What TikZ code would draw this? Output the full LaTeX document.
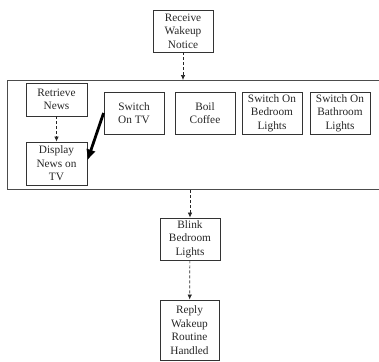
\documentclass[tikz,border=0pt]{standalone}
\usepackage{fontspec}
\setmainfont{Liberation Serif}
\usetikzlibrary{arrows.meta}
\begin{document}
\begin{tikzpicture}[x=1pt,y=-1pt,
  box/.style={draw=black!80, line width=0.8pt, inner sep=0pt, align=center,
    font=\fontsize{11.3}{13.5}\selectfont, text=black!85},
  flow/.style={draw=black!85, line width=0.7pt, dash pattern=on 3pt off 2pt,
    -{Latex[length=5pt,width=4.5pt]}},
  thick arrow/.style={draw=black, line width=2.8pt, -{Latex[length=11pt,width=10pt]}}]
\useasboundingbox (0,0) rectangle (379,361);
\clip (0,0) rectangle (379,361);
\node[box, minimum width=60pt, minimum height=42pt] (recv) at (183,31) {Receive\\Wakeup\\Notice};
\node[draw=black!70, line width=0.9pt, minimum width=390pt, minimum height=109pt, anchor=north west, inner sep=0pt] (cont) at (7,80) {};
\node[box, minimum width=61pt, minimum height=33pt] (retr) at (56.5,99.5) {Retrieve\\News};
\node[box, minimum width=61pt, minimum height=43pt] (disp) at (56.5,163.5) {Display\\News on\\TV};
\node[box, minimum width=60pt, minimum height=42pt] (tv) at (134,113) {Switch\\On TV};
\node[box, minimum width=60pt, minimum height=42pt] (coffee) at (205,113) {Boil\\Coffee};
\node[box, minimum width=60pt, minimum height=42pt] (bed) at (272,113) {Switch On\\Bedroom\\Lights};
\node[box, minimum width=60pt, minimum height=42pt] (bath) at (340,113) {Switch On\\Bathroom\\Lights};
\node[box, minimum width=60pt, minimum height=42pt] (blink) at (190,239) {Blink\\Bedroom\\Lights};
\node[box, minimum width=59pt, minimum height=60pt] (reply) at (189.5,330) {Reply\\Wakeup\\Routine\\Handled};
\draw[flow] (recv) -- (recv |- cont.north);
\draw[flow] (retr) -- (disp);
\draw[thick arrow] (tv.west) -- ([yshift=3pt]disp.east);
\draw[flow] (blink |- cont.south) -- (blink);
\draw[flow] (blink) -- (reply);
\end{tikzpicture}
\end{document}
